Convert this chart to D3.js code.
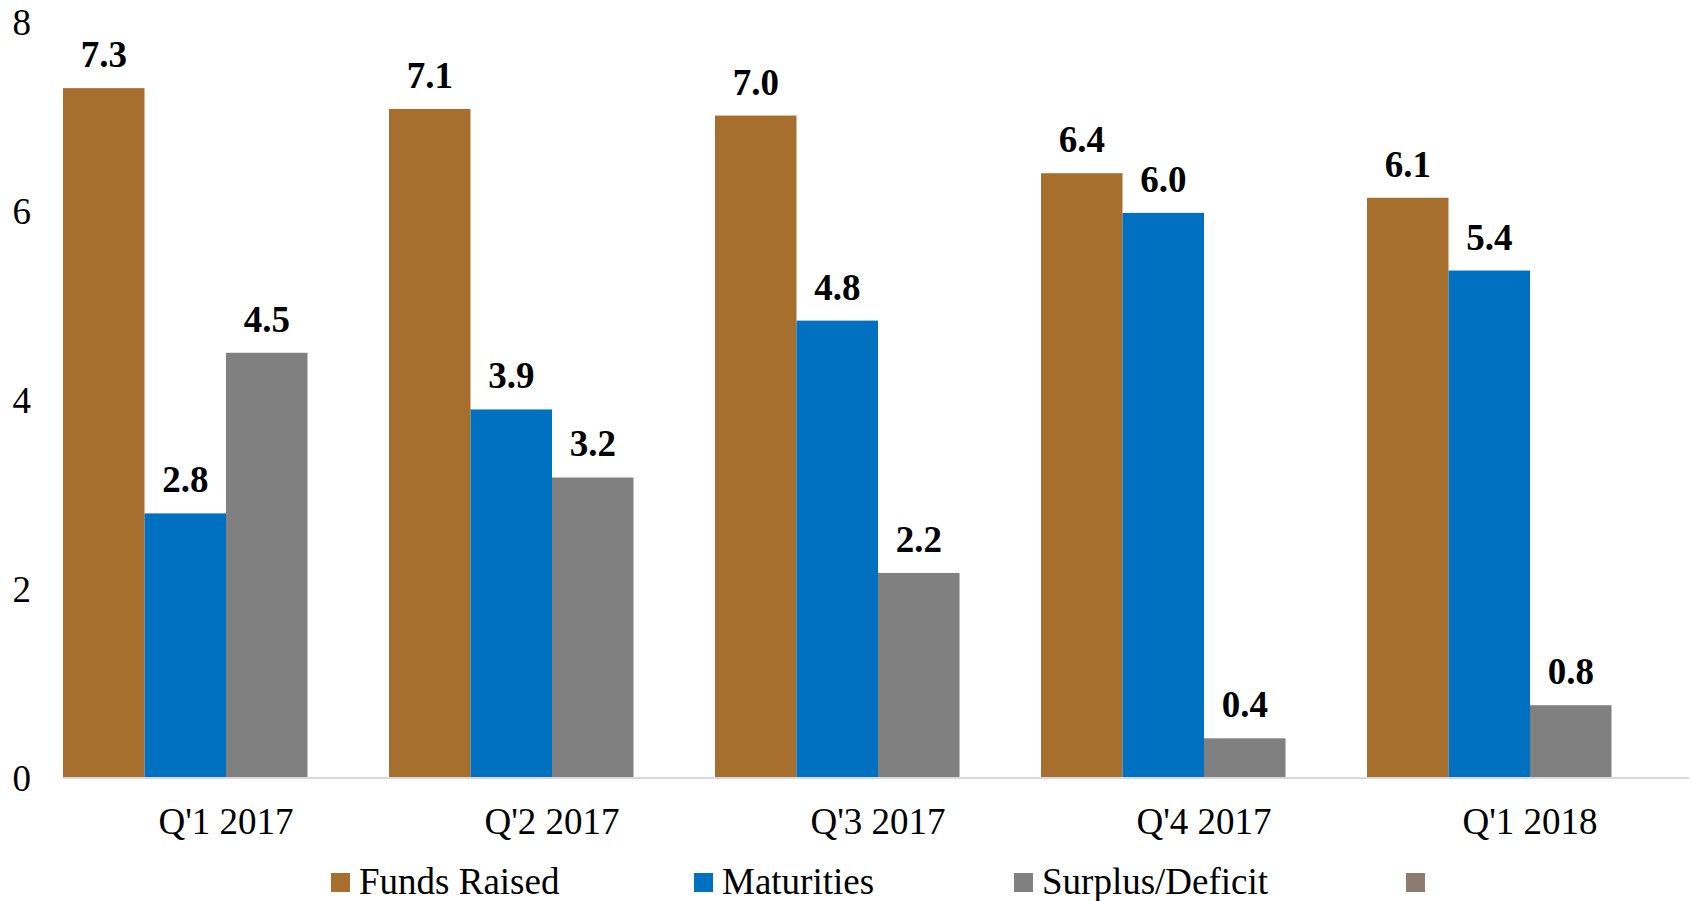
<!DOCTYPE html>
<html>
<head>
<meta charset="utf-8">
<script src="https://cdn.jsdelivr.net/npm/d3@7.9.0/dist/d3.min.js"></script>
<style>
  html, body { margin: 0; padding: 0; background: #fff; }
  svg { display: block; font-family: "Liberation Serif", "Times New Roman", serif; }
</style>
</head>
<body>
<svg width="1698" height="901"></svg>
<script>
const quarters = ["Q'1 2017", "Q'2 2017", "Q'3 2017", "Q'4 2017", "Q'1 2018"];
const fundsRaised = [7.30, 7.08, 7.01, 6.40, 6.14];
const maturities = [2.80, 3.90, 4.84, 5.98, 5.37];
const surplusDeficit = [4.50, 3.18, 2.17, 0.42, 0.77];
const extraSeries = [null, null, null, null, null];
const seriesNames = ["Funds Raised", "Maturities", "Surplus/Deficit", ""];
const seriesColors = ["#A66F2E", "#0070C0", "#808080", "#8C7B70"];
const yTicks = [0, 2, 4, 6, 8];

const allSeries = [fundsRaised, maturities, surplusDeficit, extraSeries];

const svg = d3.select('svg');

let x = d3.scaleBand().domain(quarters).range([63, 1693]).padding(0);
let xInner = d3.scaleBand().domain(d3.range(allSeries.length)).range([0, x.bandwidth()]).padding(0);
let y = d3.scaleLinear().domain([0, 8]).range([778, 22]);
let fmt = d3.format('.1f');

// y tick labels, no axis line
svg.append('g')
  .selectAll('text')
  .data(yTicks)
  .join('text')
  .attr('x', 31)
  .attr('y', (d) => y(d))
  .attr('dy', '0.35em')
  .attr('text-anchor', 'end')
  .attr('font-size', 37)
  .text((d) => d);

let bars = svg.append('g');
let labels = svg.append('g');

allSeries.forEach((values, si) => {
  let data = values.map((v, i) => ({ q: quarters[i], v: v })).filter((d) => d.v != null);

  bars.selectAll(null)
    .data(data)
    .join('rect')
    .attr('x', (d) => x(d.q) + xInner(si))
    .attr('y', (d) => y(d.v))
    .attr('width', xInner.bandwidth())
    .attr('height', (d) => y(0) - y(d.v))
    .attr('fill', seriesColors[si]);

  labels.selectAll(null)
    .data(data)
    .join('text')
    .attr('x', (d) => x(d.q) + xInner(si) + xInner.bandwidth() / 2)
    .attr('y', (d) => y(d.v) - 21)
    .attr('text-anchor', 'middle')
    .attr('font-size', 37)
    .attr('font-weight', 'bold')
    .text((d) => fmt(d.v));
});

// category axis
let xAxis = svg.append('g').attr('transform', `translate(0,${y(0)})`)
  .call(d3.axisBottom(x).tickSize(0).tickPadding(0));
xAxis.select('.domain').attr('stroke', '#D9D9D9').attr('stroke-width', 2).attr('d', 'M63,0H1689');
xAxis.selectAll('.tick text')
  .attr('y', 56)
  .attr('dy', 0)
  .attr('font-size', 37)
  .attr('font-family', '"Liberation Serif", "Times New Roman", serif')
  .attr('fill', '#000');

// legend
let legendX = [331, 694, 1014, 1406];
let legend = svg.append('g');
seriesNames.forEach((name, i) => {
  legend.append('rect')
    .attr('x', legendX[i])
    .attr('y', 873)
    .attr('width', 19)
    .attr('height', 19)
    .attr('fill', seriesColors[i]);
  legend.append('text')
    .attr('x', legendX[i] + 28)
    .attr('y', 894)
    .attr('font-size', 37)
    .text(name);
});
</script>
</body>
</html>
